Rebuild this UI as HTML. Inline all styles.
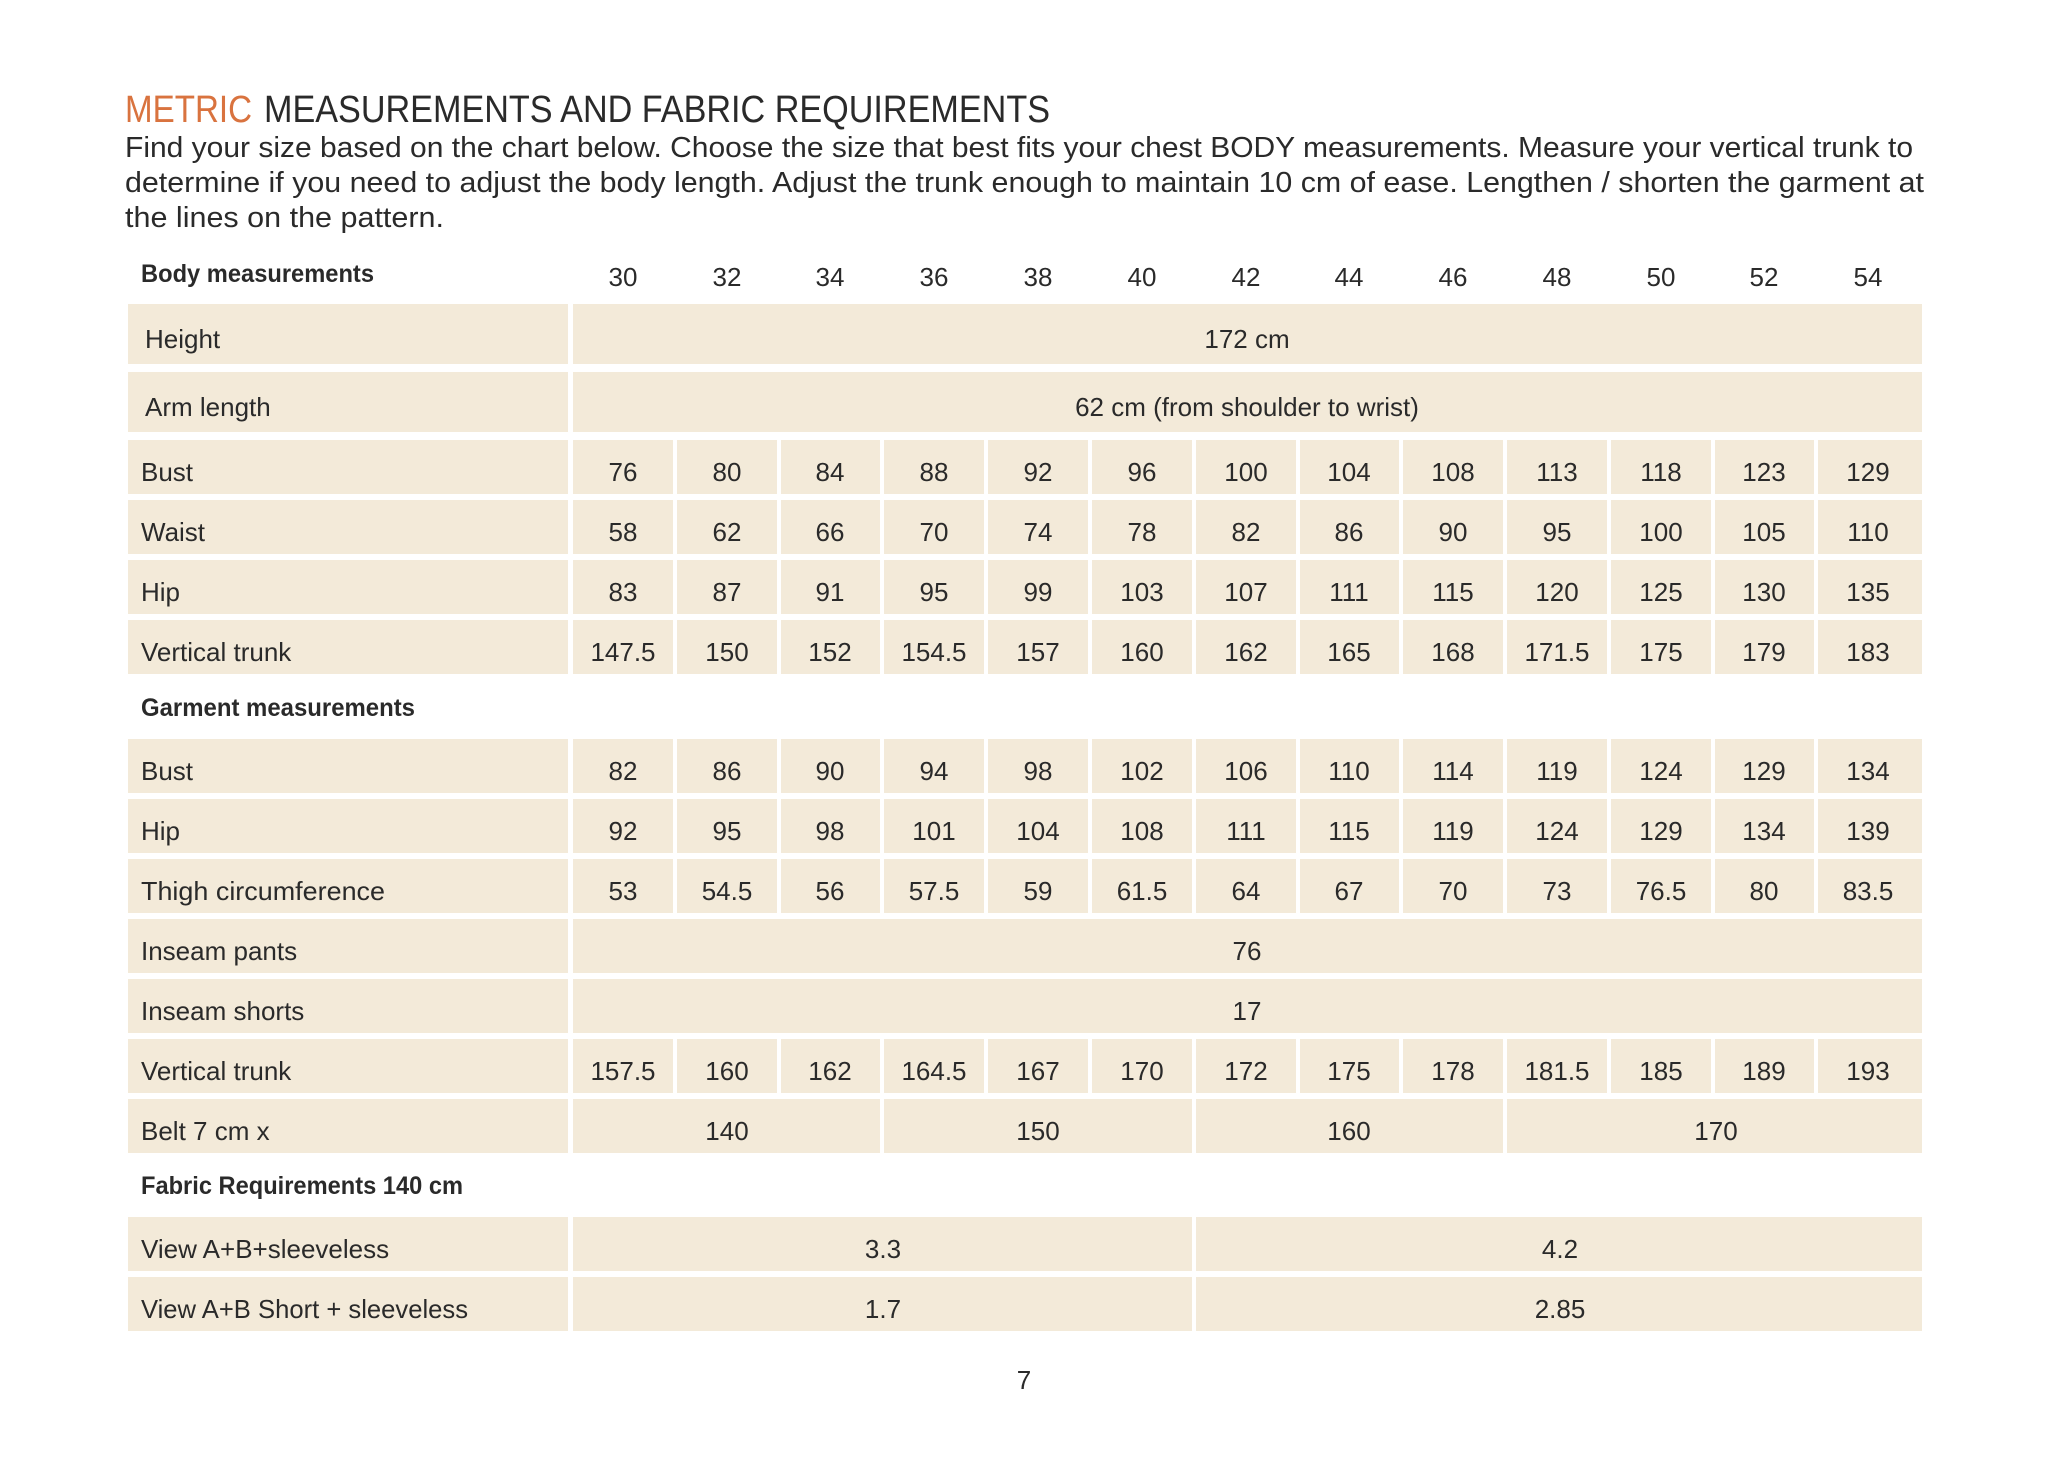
<!DOCTYPE html>
<html><head><meta charset="utf-8"><style>
html,body{margin:0;padding:0;background:#fff;}
svg{display:block;}
text{font-family:"Liberation Sans",sans-serif;fill:#2a2a2a;}
.v{font-size:26px;text-anchor:middle;}
.l{font-size:26px;}
.b{fill:#f3ead9;}
.w{fill:#fff;}
</style></head><body>
<svg width="2048" height="1460" viewBox="0 0 2048 1460" xmlns="http://www.w3.org/2000/svg">
<rect width="2048" height="1460" fill="#fff"/>
<text x="125" y="122" font-size="38" style="fill:#d9733f" textLength="127" lengthAdjust="spacingAndGlyphs">METRIC</text>
<text x="264" y="122" font-size="38" textLength="786" lengthAdjust="spacingAndGlyphs">MEASUREMENTS AND FABRIC REQUIREMENTS</text>
<text x="125" y="157" font-size="29" textLength="1788" lengthAdjust="spacingAndGlyphs">Find your size based on the chart below. Choose the size that best fits your chest BODY measurements.  Measure your vertical trunk to</text>
<text x="125" y="192" font-size="29" textLength="1799" lengthAdjust="spacingAndGlyphs">determine if you need to adjust the body length. Adjust the trunk enough to maintain 10 cm of ease. Lengthen / shorten the garment at</text>
<text x="125" y="227" font-size="29" textLength="319" lengthAdjust="spacingAndGlyphs">the lines on the pattern.</text>

<text x="141" y="282" font-size="25" font-weight="bold" textLength="233" lengthAdjust="spacingAndGlyphs">Body measurements</text>
<g class="v">
<text x="623" y="286" class="v">30</text><text x="727" y="286" class="v">32</text><text x="830" y="286" class="v">34</text><text x="934" y="286" class="v">36</text><text x="1038" y="286" class="v">38</text><text x="1142" y="286" class="v">40</text><text x="1246" y="286" class="v">42</text><text x="1349" y="286" class="v">44</text><text x="1453" y="286" class="v">46</text><text x="1557" y="286" class="v">48</text><text x="1661" y="286" class="v">50</text><text x="1764" y="286" class="v">52</text><text x="1868" y="286" class="v">54</text>
</g>

<g class="b">
<rect x="128" y="304" width="440" height="60"/><rect x="573" y="304" width="1349" height="60"/>
<rect x="128" y="372" width="440" height="60"/><rect x="573" y="372" width="1349" height="60"/>
<rect x="128" y="440" width="440" height="54"/><rect x="573" y="440" width="1349" height="54"/>
<rect x="128" y="500" width="440" height="54"/><rect x="573" y="500" width="1349" height="54"/>
<rect x="128" y="560" width="440" height="54"/><rect x="573" y="560" width="1349" height="54"/>
<rect x="128" y="620" width="440" height="54"/><rect x="573" y="620" width="1349" height="54"/>
<rect x="128" y="739" width="440" height="54"/><rect x="573" y="739" width="1349" height="54"/>
<rect x="128" y="799" width="440" height="54"/><rect x="573" y="799" width="1349" height="54"/>
<rect x="128" y="859" width="440" height="54"/><rect x="573" y="859" width="1349" height="54"/>
<rect x="128" y="919" width="440" height="54"/><rect x="573" y="919" width="1349" height="54"/>
<rect x="128" y="979" width="440" height="54"/><rect x="573" y="979" width="1349" height="54"/>
<rect x="128" y="1039" width="440" height="54"/><rect x="573" y="1039" width="1349" height="54"/>
<rect x="128" y="1099" width="440" height="54"/><rect x="573" y="1099" width="1349" height="54"/>
<rect x="128" y="1217" width="440" height="54"/><rect x="573" y="1217" width="1349" height="54"/>
<rect x="128" y="1277" width="440" height="54"/><rect x="573" y="1277" width="1349" height="54"/>
</g>
<g class="w">
<rect x="673" y="440" width="4" height="234"/><rect x="777" y="440" width="4" height="234"/><rect x="880" y="440" width="4" height="234"/><rect x="984" y="440" width="4" height="234"/><rect x="1088" y="440" width="4" height="234"/><rect x="1192" y="440" width="4" height="234"/><rect x="1296" y="440" width="4" height="234"/><rect x="1399" y="440" width="4" height="234"/><rect x="1503" y="440" width="4" height="234"/><rect x="1607" y="440" width="4" height="234"/><rect x="1711" y="440" width="4" height="234"/><rect x="1814" y="440" width="4" height="234"/>
<rect x="673" y="739" width="4" height="174"/><rect x="777" y="739" width="4" height="174"/><rect x="880" y="739" width="4" height="174"/><rect x="984" y="739" width="4" height="174"/><rect x="1088" y="739" width="4" height="174"/><rect x="1192" y="739" width="4" height="174"/><rect x="1296" y="739" width="4" height="174"/><rect x="1399" y="739" width="4" height="174"/><rect x="1503" y="739" width="4" height="174"/><rect x="1607" y="739" width="4" height="174"/><rect x="1711" y="739" width="4" height="174"/><rect x="1814" y="739" width="4" height="174"/>
<rect x="673" y="1039" width="4" height="54"/><rect x="777" y="1039" width="4" height="54"/><rect x="880" y="1039" width="4" height="54"/><rect x="984" y="1039" width="4" height="54"/><rect x="1088" y="1039" width="4" height="54"/><rect x="1192" y="1039" width="4" height="54"/><rect x="1296" y="1039" width="4" height="54"/><rect x="1399" y="1039" width="4" height="54"/><rect x="1503" y="1039" width="4" height="54"/><rect x="1607" y="1039" width="4" height="54"/><rect x="1711" y="1039" width="4" height="54"/><rect x="1814" y="1039" width="4" height="54"/>
<rect x="880" y="1099" width="4" height="54"/><rect x="1192" y="1099" width="4" height="54"/><rect x="1503" y="1099" width="4" height="54"/>
<rect x="1192" y="1217" width="4" height="114"/>
</g>

<text class="l" x="145" y="348">Height</text>
<text class="l" x="145" y="416">Arm length</text>
<text class="l" x="141" y="481">Bust</text>
<text class="l" x="141" y="541">Waist</text>
<text class="l" x="141" y="601">Hip</text>
<text class="l" x="141" y="661">Vertical trunk</text>
<text x="141" y="716" font-size="25" font-weight="bold" textLength="274" lengthAdjust="spacingAndGlyphs">Garment measurements</text>
<text class="l" x="141" y="780">Bust</text>
<text class="l" x="141" y="840">Hip</text>
<text class="l" x="141" y="900" textLength="244" lengthAdjust="spacingAndGlyphs">Thigh circumference</text>
<text class="l" x="141" y="960">Inseam pants</text>
<text class="l" x="141" y="1020">Inseam shorts</text>
<text class="l" x="141" y="1080">Vertical trunk</text>
<text class="l" x="141" y="1140">Belt 7 cm x</text>
<text x="141" y="1194" font-size="25" font-weight="bold" textLength="322" lengthAdjust="spacingAndGlyphs">Fabric Requirements 140 cm</text>
<text class="l" x="141" y="1258">View A+B+sleeveless</text>
<text class="l" x="141" y="1318" textLength="327" lengthAdjust="spacingAndGlyphs">View A+B Short + sleeveless</text>

<text class="v" x="1247" y="348">172 cm</text>
<text class="v" x="1247" y="416">62 cm (from shoulder to wrist)</text>

<g>
<text class="v" x="623" y="481">76</text><text class="v" x="727" y="481">80</text><text class="v" x="830" y="481">84</text><text class="v" x="934" y="481">88</text><text class="v" x="1038" y="481">92</text><text class="v" x="1142" y="481">96</text><text class="v" x="1246" y="481">100</text><text class="v" x="1349" y="481">104</text><text class="v" x="1453" y="481">108</text><text class="v" x="1557" y="481">113</text><text class="v" x="1661" y="481">118</text><text class="v" x="1764" y="481">123</text><text class="v" x="1868" y="481">129</text>

<text class="v" x="623" y="541">58</text><text class="v" x="727" y="541">62</text><text class="v" x="830" y="541">66</text><text class="v" x="934" y="541">70</text><text class="v" x="1038" y="541">74</text><text class="v" x="1142" y="541">78</text><text class="v" x="1246" y="541">82</text><text class="v" x="1349" y="541">86</text><text class="v" x="1453" y="541">90</text><text class="v" x="1557" y="541">95</text><text class="v" x="1661" y="541">100</text><text class="v" x="1764" y="541">105</text><text class="v" x="1868" y="541">110</text>

<text class="v" x="623" y="601">83</text><text class="v" x="727" y="601">87</text><text class="v" x="830" y="601">91</text><text class="v" x="934" y="601">95</text><text class="v" x="1038" y="601">99</text><text class="v" x="1142" y="601">103</text><text class="v" x="1246" y="601">107</text><text class="v" x="1349" y="601">111</text><text class="v" x="1453" y="601">115</text><text class="v" x="1557" y="601">120</text><text class="v" x="1661" y="601">125</text><text class="v" x="1764" y="601">130</text><text class="v" x="1868" y="601">135</text>

<text class="v" x="623" y="661">147.5</text><text class="v" x="727" y="661">150</text><text class="v" x="830" y="661">152</text><text class="v" x="934" y="661">154.5</text><text class="v" x="1038" y="661">157</text><text class="v" x="1142" y="661">160</text><text class="v" x="1246" y="661">162</text><text class="v" x="1349" y="661">165</text><text class="v" x="1453" y="661">168</text><text class="v" x="1557" y="661">171.5</text><text class="v" x="1661" y="661">175</text><text class="v" x="1764" y="661">179</text><text class="v" x="1868" y="661">183</text>

<text class="v" x="623" y="780">82</text><text class="v" x="727" y="780">86</text><text class="v" x="830" y="780">90</text><text class="v" x="934" y="780">94</text><text class="v" x="1038" y="780">98</text><text class="v" x="1142" y="780">102</text><text class="v" x="1246" y="780">106</text><text class="v" x="1349" y="780">110</text><text class="v" x="1453" y="780">114</text><text class="v" x="1557" y="780">119</text><text class="v" x="1661" y="780">124</text><text class="v" x="1764" y="780">129</text><text class="v" x="1868" y="780">134</text>

<text class="v" x="623" y="840">92</text><text class="v" x="727" y="840">95</text><text class="v" x="830" y="840">98</text><text class="v" x="934" y="840">101</text><text class="v" x="1038" y="840">104</text><text class="v" x="1142" y="840">108</text><text class="v" x="1246" y="840">111</text><text class="v" x="1349" y="840">115</text><text class="v" x="1453" y="840">119</text><text class="v" x="1557" y="840">124</text><text class="v" x="1661" y="840">129</text><text class="v" x="1764" y="840">134</text><text class="v" x="1868" y="840">139</text>

<text class="v" x="623" y="900">53</text><text class="v" x="727" y="900">54.5</text><text class="v" x="830" y="900">56</text><text class="v" x="934" y="900">57.5</text><text class="v" x="1038" y="900">59</text><text class="v" x="1142" y="900">61.5</text><text class="v" x="1246" y="900">64</text><text class="v" x="1349" y="900">67</text><text class="v" x="1453" y="900">70</text><text class="v" x="1557" y="900">73</text><text class="v" x="1661" y="900">76.5</text><text class="v" x="1764" y="900">80</text><text class="v" x="1868" y="900">83.5</text>

<text class="v" x="1247" y="960">76</text>
<text class="v" x="1247" y="1020">17</text>

<text class="v" x="623" y="1080">157.5</text><text class="v" x="727" y="1080">160</text><text class="v" x="830" y="1080">162</text><text class="v" x="934" y="1080">164.5</text><text class="v" x="1038" y="1080">167</text><text class="v" x="1142" y="1080">170</text><text class="v" x="1246" y="1080">172</text><text class="v" x="1349" y="1080">175</text><text class="v" x="1453" y="1080">178</text><text class="v" x="1557" y="1080">181.5</text><text class="v" x="1661" y="1080">185</text><text class="v" x="1764" y="1080">189</text><text class="v" x="1868" y="1080">193</text>

<text class="v" x="727" y="1140">140</text><text class="v" x="1038" y="1140">150</text><text class="v" x="1349" y="1140">160</text><text class="v" x="1716" y="1140">170</text>

<text class="v" x="883" y="1258">3.3</text><text class="v" x="1560" y="1258">4.2</text>
<text class="v" x="883" y="1318">1.7</text><text class="v" x="1560" y="1318">2.85</text>
</g>

<text class="v" x="1024" y="1389" font-size="30">7</text>
</svg>
</body></html>
